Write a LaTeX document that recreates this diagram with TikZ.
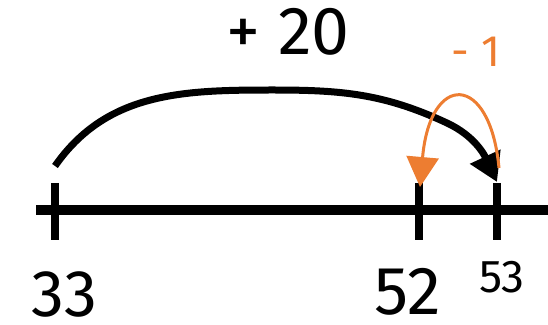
\documentclass[tikz,border=0pt]{standalone}
\usepackage{fontspec}
\setmainfont{Fira Sans}
\usetikzlibrary{arrows.meta}
\definecolor{jorange}{HTML}{ED7D31}
\tikzset{
  axisline/.style={line width=9pt},
  tickline/.style={line width=8pt},
  bigjump/.style={line width=7pt, -{Triangle[length=28pt,width=32pt]}},
  smalljump/.style={line width=3pt, jorange, -{Triangle[length=30pt,width=32pt]}},
  numlabel/.style={anchor=base, inner sep=0pt},
}
\begin{document}
\begin{tikzpicture}[x=1pt,y=1pt]
\useasboundingbox (0,0) rectangle (548,324);
% number line
\coordinate (L) at (36,114);
\coordinate (R) at (548,114);
\draw[axisline] (L) -- (R);
\coordinate (t33a) at (55,141); \coordinate (t33b) at (55,84);
\coordinate (t52a) at (419,141); \coordinate (t52b) at (419,84);
\coordinate (t53a) at (497,141); \coordinate (t53b) at (497,84);
\draw[tickline] (t33a) -- (t33b);
\draw[tickline] (t52a) -- (t52b);
\draw[tickline] (t53a) -- (t53b);
% labels
\node[numlabel, font=\fontsize{66}{66}\selectfont] (n33) at (64,8) {33};
\node[numlabel, font=\fontsize{68}{68}\selectfont] (n52) at (408,10) {52};
\node[numlabel, font=\fontsize{46}{46}\selectfont] (n53) at (502,32) {53};
\node[numlabel, font=\fontsize{68}{68}\selectfont] (plus) at (288,269) {+ 20};
\node[numlabel, font=\fontsize{44}{44}\selectfont, text=jorange] (minus) at (476,257) {- 1};
% jumps
\coordinate (s1) at (55,158);
\coordinate (p1) at (273,234);
\coordinate (m1) at (447,201);
\coordinate (e1) at (497,142);
\draw[bigjump] (s1) to[out=55,in=180] (p1) to[out=0,in=155] (m1) to[out=-25,in=115] (e1);
\coordinate (s2) at (499,156);
\coordinate (e2) at (420,137);
\draw[smalljump] (s2) .. controls (490,252) and (430,252) .. (e2);
\end{tikzpicture}
\end{document}
